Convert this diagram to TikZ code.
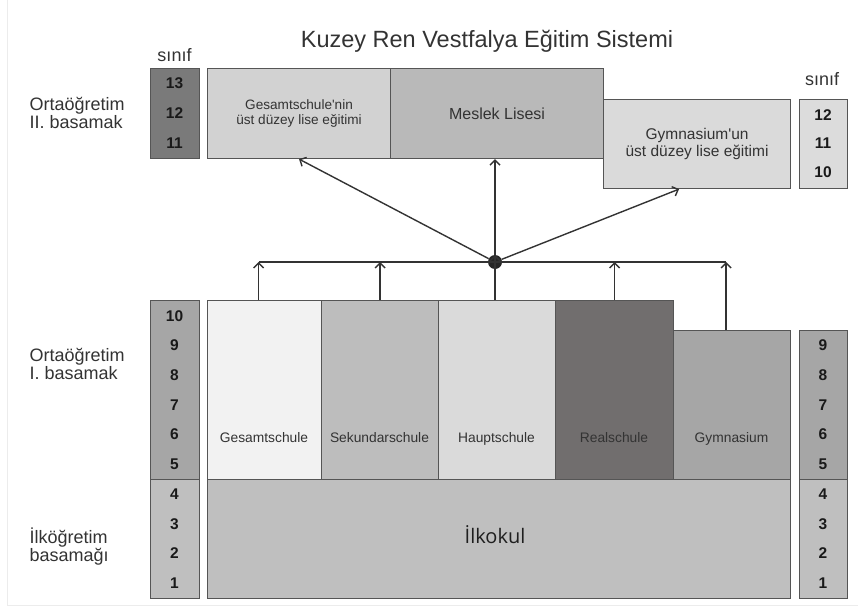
\documentclass[tikz,border=0pt]{standalone}
\usepackage{fontspec}
\setmainfont{Liberation Sans}
\newfontfamily\ilkfont{Open Sans}
\usetikzlibrary{arrows.meta}
\definecolor{edgegray}{HTML}{555555}
\definecolor{inkgray}{HTML}{333333}
\definecolor{gradedark}{HTML}{7A7A7A}
\definecolor{grademid}{HTML}{A6A6A6}
\definecolor{gradelight}{HTML}{BFBFBF}
\definecolor{gradepale}{HTML}{DCDCDC}
\definecolor{gesustfill}{HTML}{D2D2D2}
\definecolor{meslekfill}{HTML}{B9B9B9}
\definecolor{gymustfill}{HTML}{DADADA}
\definecolor{gesamtfill}{HTML}{F2F2F2}
\definecolor{sekfill}{HTML}{BDBDBD}
\definecolor{hauptfill}{HTML}{DADADA}
\definecolor{realfill}{HTML}{716E6E}
\definecolor{gymfill}{HTML}{A6A6A6}
\definecolor{ilkfill}{HTML}{BFBFBF}
\tikzset{
  schoolbox/.style={draw=edgegray, line width=1.1pt, anchor=north west, inner sep=0pt},
  gradenum/.style={font=\bfseries\fontsize{15.5}{16}\selectfont, text=black!90},
  schoolname/.style={anchor=base, text=inkgray, font=\fontsize{13.8}{14}\selectfont},
  levellabel/.style={anchor=west, align=left, text=inkgray, font=\fontsize{18}{18}\selectfont},
  flow/.style={line width=1.4pt, draw=black!80, -{Straight Barb[length=5pt,width=10pt]}},
}
\begin{document}
\begin{tikzpicture}[x=1pt,y=-1pt]
  \useasboundingbox (0,0) rectangle (858,607);
  \draw[gray!15] (7,0) -- (7,605) -- (858,605);
  \node[anchor=base, text=inkgray, font=\fontsize{23.5}{24}\selectfont] (title) at (487,48)
    {Kuzey Ren Vestfalya Eğitim Sistemi};

  % level labels
  \node[levellabel] (lvlII) at (26,113) {Ortaöğretim\\II. basamak};
  \node[levellabel] (lvlI) at (26,364) {Ortaöğretim\\I. basamak};
  \node[levellabel] (lvlP) at (26,547) {İlköğretim\\basamağı};

  % grade columns
  \node[anchor=base, text=inkgray, font=\fontsize{18}{18}\selectfont] (sinifL) at (174.5,62) {sınıf};
  \node[anchor=base, text=inkgray, font=\fontsize{18}{18}\selectfont] (sinifR) at (822,85) {sınıf};
  \node[schoolbox, fill=gradedark, minimum width=49pt, minimum height=90pt] (gradeTL) at (150,68) {};
  \node[schoolbox, fill=gradepale, minimum width=48pt, minimum height=89pt] (gradeTR) at (799,99) {};
  \node[schoolbox, fill=grademid, minimum width=49pt, minimum height=179pt] (gradeL) at (150,300) {};
  \node[schoolbox, fill=gradelight, minimum width=49pt, minimum height=119pt] (gradeLp) at (150,479) {};
  \node[schoolbox, fill=grademid, minimum width=48pt, minimum height=149pt] (gradeR) at (799,330) {};
  \node[schoolbox, fill=gradelight, minimum width=48pt, minimum height=119pt] (gradeRp) at (799,479) {};
  \foreach \n [count=\i from 0] in {13,12,11}
    \node[gradenum] (tl\n) at (174.5,83+30*\i) {\n};
  \foreach \n [count=\i from 0] in {12,11,10}
    \node[gradenum] (tr\n) at (823,115+28.5*\i) {\n};
  \foreach \n [count=\i from 0] in {10,9,8,7,6,5}
    \node[gradenum] (gl\n) at (174.5,316+29.6*\i) {\n};
  \foreach \n [count=\i from 1] in {9,8,7,6,5}
    \node[gradenum] (gr\n) at (823,316+29.6*\i) {\n};
  \foreach \n [count=\i from 0] in {4,3,2,1}
    \node[gradenum] (pl\n) at (174.5,494+29.7*\i) {\n};
  \foreach \n [count=\i from 0] in {4,3,2,1}
    \node[gradenum] (pr\n) at (823,494+29.7*\i) {\n};

  % upper secondary
  \node[schoolbox, fill=gesustfill, minimum width=183pt, minimum height=90pt] (gesUst) at (207,68) {};
  \node[schoolbox, fill=meslekfill, minimum width=213pt, minimum height=90pt] (meslek) at (390,68) {};
  \node[schoolbox, fill=gymustfill, minimum width=187pt, minimum height=89pt] (gymUst) at (603,99) {};
  \node[align=center, text=inkgray, font=\fontsize{13.6}{15}\selectfont] (gesUstT) at (gesUst.center)
    {Gesamtschule\textquotesingle nin\\üst düzey lise eğitimi};
  \node[text=inkgray, font=\fontsize{16}{18}\selectfont] (meslekT) at (meslek.center) {Meslek Lisesi};
  \node[align=center, text=inkgray, font=\fontsize{15.5}{17}\selectfont] (gymUstT) at (gymUst.center)
    {Gymnasium\textquotesingle un\\üst düzey lise eğitimi};

  % lower secondary and primary
  \node[schoolbox, fill=gesamtfill, minimum width=114pt, minimum height=179pt] (gesamt) at (207,300) {};
  \node[schoolbox, fill=sekfill, minimum width=117pt, minimum height=179pt] (sekundar) at (321,300) {};
  \node[schoolbox, fill=hauptfill, minimum width=117pt, minimum height=179pt] (haupt) at (438,300) {};
  \node[schoolbox, fill=realfill, minimum width=118pt, minimum height=179pt] (real) at (555,300) {};
  \node[schoolbox, fill=gymfill, minimum width=117pt, minimum height=149pt] (gym) at (673,330) {};
  \node[schoolbox, fill=ilkfill, minimum width=583pt, minimum height=119pt] (ilkokul) at (207,479) {};
  \node[schoolname] (gesamtT) at (264,442) {Gesamtschule};
  \node[schoolname] (sekundarT) at (379.5,442) {Sekundarschule};
  \node[schoolname] (hauptT) at (496.5,442) {Hauptschule};
  \node[schoolname, text=black!80] (realT) at (614,442) {Realschule};
  \node[schoolname] (gymT) at (731.5,442) {Gymnasium};
  \node[text=black!88, font=\ilkfont\fontsize{20}{22}\selectfont] (ilkokulT) at (495,535) {İlkokul};

  % connectors
  \node[circle, fill=black!85, inner sep=0pt, minimum size=14pt] (hub) at (495,262) {};
  \coordinate (busL) at ([xshift=-6pt]gesamt.north |- hub);
  \coordinate (busR) at ([xshift=-6pt]gym.north |- hub);
  \draw[line width=1.4pt, black!80] (busL) -- (busR);
  \draw[flow] ([xshift=-6pt]gesamt.north) -- (busL);
  \draw[flow] (sekundar.north) -- (sekundar.north |- hub);
  \draw[flow] (hub |- haupt.north) -- ([yshift=7pt]hub.center);
  \draw[flow] (real.north) -- (real.north |- hub);
  \draw[flow] ([xshift=-6pt]gym.north) -- (busR);
  \draw[flow] (hub) -- (gesUst.south);
  \draw[flow] (hub) -- (hub |- meslek.south);
  \draw[flow] (hub) -- ([xshift=-18pt]gymUst.south);
\end{tikzpicture}
\end{document}
